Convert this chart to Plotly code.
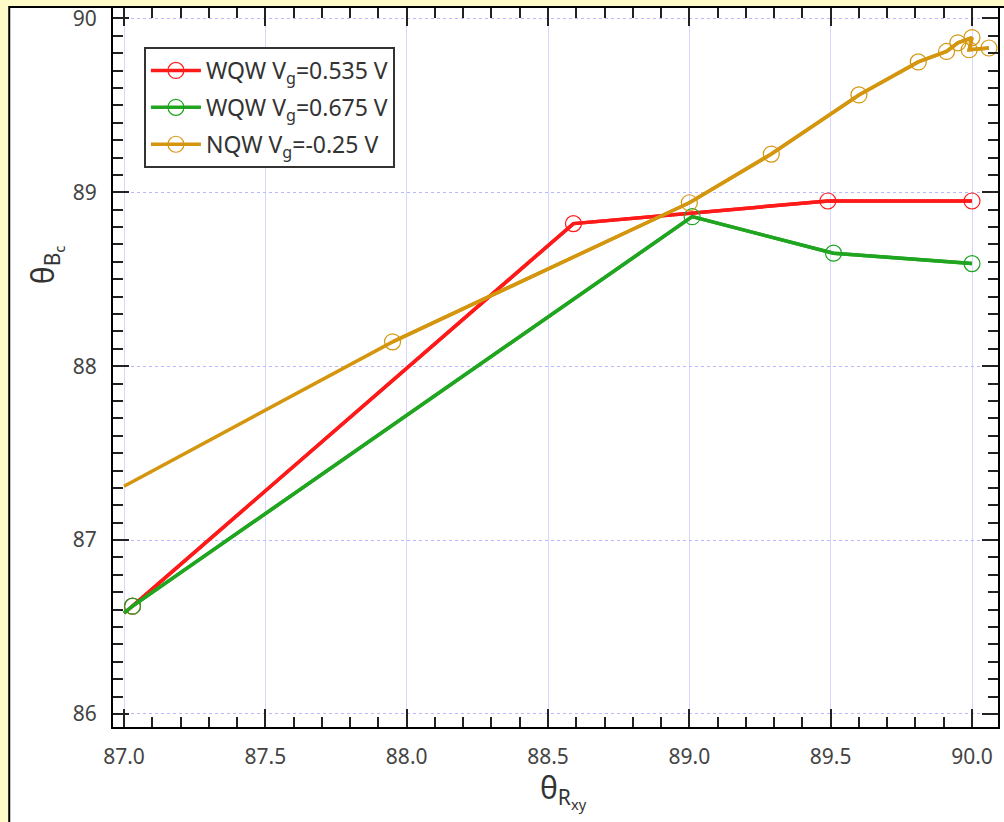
import plotly.graph_objects as go

# ---- data ----
red_name = "WQW V<sub>g</sub>=0.535 V"
red_x = [87.03, 88.59, 89.49, 90.0]
red_y = [86.62, 88.82, 88.95, 88.95]
red_line_x = [87.0, 87.03, 88.59, 89.49, 90.0]
red_line_y = [86.58, 86.62, 88.82, 88.95, 88.95]

green_name = "WQW V<sub>g</sub>=0.675 V"
green_x = [87.03, 89.01, 89.51, 90.0]
green_y = [86.62, 88.86, 88.65, 88.59]
green_line_x = [87.0, 87.03, 89.01, 89.51, 90.0]
green_line_y = [86.58, 86.62, 88.86, 88.65, 88.59]

orange_name = "NQW V<sub>g</sub>=-0.25 V"
orange_x = [87.95, 89.0, 89.29, 89.6, 89.81, 89.91, 89.95, 90.0, 89.99, 90.06]
orange_y = [88.14, 88.94, 89.22, 89.56, 89.75, 89.81, 89.86, 89.89, 89.82, 89.83]
orange_line_x = [87.0] + orange_x
orange_line_y = [87.31] + orange_y

x_ticks = [87.0, 87.5, 88.0, 88.5, 89.0, 89.5, 90.0]
y_ticks = [86, 87, 88, 89, 90]

RED = "#ff1a1a"
GREEN = "#1fa51f"
ORANGE = "#d4960e"
FONT = "Noto Sans"

fig = go.Figure()
for i, (lx, ly, mx, my, col, name) in enumerate([
    (red_line_x, red_line_y, red_x, red_y, RED, red_name),
    (green_line_x, green_line_y, green_x, green_y, GREEN, green_name),
    (orange_line_x, orange_line_y, orange_x, orange_y, ORANGE, orange_name),
]):
    fig.add_trace(go.Scatter(x=lx, y=ly, mode="lines", line=dict(color=col, width=3.5),
                             showlegend=False, hoverinfo="skip", legendgroup=f"g{i}"))
    fig.add_trace(go.Scatter(x=mx, y=my, mode="lines+markers", name=name, legendgroup=f"g{i}",
                             line=dict(color=col, width=3.5),
                             marker=dict(symbol="circle-open", size=16, color=col,
                                         line=dict(width=1.2, color=col))))

# pixel mapping helpers for plot area: x 113..1000, y 8..727
L, R, T, B = 113, 1000, 8, 727
W, H = 1004, 822
def px(x):
    return (x - L) / (R - L)
def py(y):
    return (B - y) / (B - T)

fig.update_layout(
    width=W, height=H,
    margin=dict(l=L, r=W - R, t=T, b=H - B),
    paper_bgcolor="#fffbc9",
    plot_bgcolor="white",
    font=dict(family=FONT, color="#3a3a3a"),
    shapes=[dict(type="rect", xref="paper", yref="paper", layer="below",
                 x0=px(9), x1=px(1010), y0=py(830), y1=py(7),
                 fillcolor="white", line=dict(color="black", width=2))],
    legend=dict(x=px(144), y=py(47), xanchor="left", yanchor="top",
                bgcolor="white", bordercolor="#333333", borderwidth=2,
                font=dict(family=FONT, size=23, color="#333333"),
                itemwidth=50, tracegroupgap=4, traceorder="grouped"),
    annotations=[
        dict(text="θ<sub>R<sub>xy</sub></sub>", xref="paper", yref="paper",
             x=px(565), y=py(790), xanchor="center", yanchor="middle",
             showarrow=False, font=dict(family=FONT, size=30, color="#333333")),
        dict(text="θ<sub>B<sub>c</sub></sub>", xref="paper", yref="paper",
             x=px(45), y=py(265), xanchor="center", yanchor="middle", textangle=-90,
             showarrow=False, font=dict(family=FONT, size=30, color="#333333")),
    ],
)

fig.update_xaxes(
    range=[86.961, 90.092], tickvals=x_ticks, ticktext=[f"{v:.1f}" for v in x_ticks],
    showline=True, linecolor="black", linewidth=2, mirror="ticks",
    ticks="inside", ticklen=18, tickwidth=2, tickcolor="#222",
    minor=dict(dtick=0.1, tick0=87.0, ticks="inside", ticklen=10, tickwidth=2, tickcolor="#222", showgrid=False),
    showgrid=True, gridcolor="#d6d6ff", gridwidth=1,
    tickfont=dict(family=FONT, size=21, color="#444"),
    ticklabelstandoff=10, zeroline=False,
)
fig.update_yaxes(
    range=[85.925, 90.06], tickvals=y_ticks,
    showline=True, linecolor="black", linewidth=2, mirror="ticks",
    ticks="inside", ticklen=16, tickwidth=2, tickcolor="#222",
    minor=dict(dtick=0.1, tick0=86, ticks="inside", ticklen=10, tickwidth=2, tickcolor="#222", showgrid=False),
    showgrid=True, gridcolor="#b8b8ff", gridwidth=1, griddash="dot",
    tickfont=dict(family=FONT, size=21, color="#444"),
    ticklabelstandoff=10, zeroline=False,
)

fig.write_html("out.html")
